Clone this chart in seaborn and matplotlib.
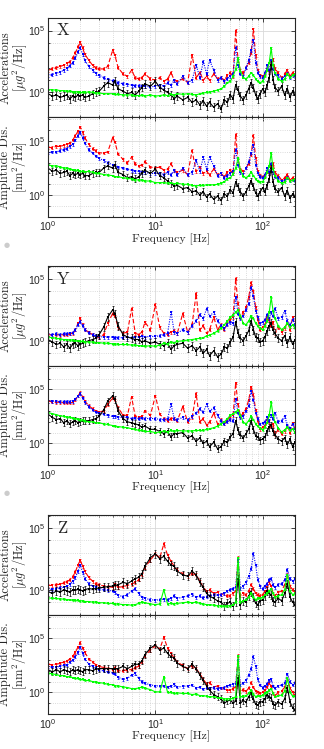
import numpy as np
import pandas as pd
import seaborn as sns
import matplotlib.pyplot as plt
from matplotlib.ticker import LogLocator, NullFormatter

# frequency grid [Hz]
freq = [1.0, 1.1, 1.2, 1.3, 1.4, 1.5, 1.6, 1.7, 1.8, 1.9,
        2.0, 2.1, 2.2, 2.4, 2.6, 2.8, 3.0, 3.3, 3.6, 4.0,
        4.2, 4.5, 5.0, 5.5, 6.0, 6.5, 7.0, 7.5, 8.0, 9.0,
        10, 11, 12, 13, 14, 15, 16, 18, 20, 22,
        24, 26, 28, 30, 32, 35, 38, 41, 44, 47,
        50, 53, 56, 59, 62, 66, 70, 74, 78, 82,
        86, 90, 95, 100, 105, 110, 115, 120, 125, 130,
        140, 150, 160, 170, 180, 190, 200]

# log10 of the spectra
# ---- X ----
x_acc_red = [1.8, 1.9, 2.0, 2.1, 2.2, 2.35, 2.5, 2.8, 3.2, 3.7,
             4.05, 3.6, 3.1, 2.6, 2.2, 2.0, 1.9, 1.9, 2.1, 3.4,
             3.0, 2.0, 1.5, 1.3, 1.8, 1.2, 1.1, 1.2, 1.5, 1.1,
             1.0, 1.2, 0.9, 1.1, 1.6, 1.0, 0.9, 1.1, 0.8, 3.0,
             1.2, 1.6, 1.0, 1.3, 1.0, 1.5, 1.1, 1.2, 1.0, 1.4,
             1.6, 1.3, 5.0, 2.6, 1.8, 1.6, 2.0, 2.4, 3.2, 5.1,
             3.0, 1.8, 1.4, 1.3, 1.5, 1.9, 1.7, 2.4, 2.7, 1.9,
             1.6, 1.2, 1.5, 1.8, 1.3, 1.6, 1.4]
x_acc_blue = [1.35, 1.45, 1.55, 1.65, 1.8, 1.95, 2.15, 2.4, 2.8, 3.3,
              3.6, 3.1, 2.6, 2.1, 1.8, 1.55, 1.4, 1.2, 1.05, 0.95,
              0.9, 0.8, 0.7, 0.65, 0.6, 0.55, 0.55, 0.5, 0.5, 0.45,
              0.5, 0.6, 0.5, 0.8, 0.6, 1.0, 0.7, 1.3, 0.8, 1.0,
              2.2, 1.2, 2.5, 1.5, 2.6, 1.8, 1.0, 1.2, 0.9, 1.1,
              1.3, 1.5, 3.6, 2.2, 1.5, 1.3, 2.0, 2.6, 3.4, 4.2,
              2.4, 1.6, 1.3, 1.2, 1.6, 2.2, 1.8, 2.6, 1.9, 1.5,
              1.4, 1.1, 1.3, 1.5, 1.2, 1.4, 1.3]
x_acc_black = [-0.1, -0.3, -0.2, -0.4, -0.3, -0.2, -0.5, -0.3, -0.4, -0.2,
               -0.3, -0.2, -0.4, -0.3, -0.1, 0.0, 0.1, 0.5, 0.8, 0.6,
               0.9, 0.3, 0.1, -0.1, 0.0, -0.2, 0.1, 0.4, 0.7, 0.5,
               0.9, 0.4, 0.2, 0.0, -0.2, -0.5, -0.3, -0.6, -0.4, -0.8,
               -0.6, -1.0, -0.7, -1.1, -0.8, -1.2, -0.9, -1.3, -0.6, -0.8,
               -0.2, -0.5, 0.6, 0.2, -0.3, -0.6, -0.2, 0.3, 0.8, 0.4,
               -0.2, -0.5, -0.1, 0.3, 0.0, 0.6, 1.2, 2.2, 1.0, 0.4,
               0.1, 0.5, -0.2, 0.3, -0.4, 0.1, -0.2]
x_acc_green = [0.25, 0.2, 0.2, 0.15, 0.15, 0.1, 0.1, 0.05, 0.05, 0.05,
               0.0, 0.0, 0.0, 0.05, 0.0, -0.05, -0.05, -0.1, -0.1, -0.1,
               -0.15, -0.15, -0.2, -0.2, -0.2, -0.25, -0.25, -0.2, -0.3, -0.2,
               -0.3, -0.25, -0.2, -0.25, -0.15, -0.2, -0.1, -0.15, -0.1, -0.15,
               -0.2, -0.1, -0.05, 0.0, 0.05, 0.1, 0.2, 0.3, 0.5, 0.8,
               0.9, 1.3, 1.9, 2.8, 1.7, 1.2, 1.1, 1.3, 1.6, 1.4,
               1.1, 0.9, 0.8, 0.9, 1.3, 1.8, 2.4, 3.6, 2.2, 1.6,
               1.1, 0.9, 1.1, 1.5, 1.2, 1.4, 1.5]
x_dis_red = [4.4, 4.4, 4.5, 4.5, 4.6, 4.7, 4.8, 5.1, 5.5, 5.9,
             6.3, 5.8, 5.3, 4.7, 4.3, 4.1, 3.9, 3.9, 4.0, 5.3,
             4.9, 3.8, 3.3, 3.0, 3.5, 2.9, 2.7, 2.8, 3.1, 2.6,
             2.5, 2.6, 2.3, 2.4, 2.9, 2.3, 2.1, 2.3, 1.9, 4.1,
             2.2, 2.6, 2.0, 2.2, 1.9, 2.4, 1.9, 2.0, 1.7, 2.1,
             2.3, 2.0, 5.6, 3.2, 2.4, 2.2, 2.5, 2.9, 3.7, 5.5,
             3.4, 2.2, 1.8, 1.7, 1.8, 2.2, 2.0, 2.7, 2.9, 2.1,
             1.8, 1.4, 1.6, 1.9, 1.4, 1.6, 1.4]
x_dis_blue = [3.9, 4.0, 4.0, 4.1, 4.2, 4.3, 4.5, 4.7, 5.1, 5.5,
              5.8, 5.3, 4.8, 4.2, 3.9, 3.6, 3.4, 3.2, 3.0, 2.8,
              2.8, 2.6, 2.5, 2.4, 2.3, 2.2, 2.2, 2.1, 2.1, 2.0,
              2.0, 2.0, 1.9, 2.1, 1.9, 2.3, 1.9, 2.5, 1.9, 2.1,
              3.2, 2.2, 3.5, 2.4, 3.5, 2.7, 1.8, 2.0, 1.6, 1.8,
              2.0, 2.2, 4.2, 2.8, 2.1, 1.9, 2.5, 3.1, 3.9, 4.6,
              2.8, 2.0, 1.7, 1.6, 1.9, 2.5, 2.1, 2.9, 2.1, 1.7,
              1.6, 1.3, 1.4, 1.6, 1.3, 1.4, 1.3]
x_dis_black = [2.5, 2.2, 2.3, 2.0, 2.1, 2.2, 1.8, 2.0, 1.9, 2.0,
               1.9, 2.0, 1.8, 1.8, 2.0, 2.1, 2.1, 2.5, 2.7, 2.5,
               2.8, 2.1, 1.9, 1.6, 1.7, 1.5, 1.7, 2.0, 2.3, 2.0,
               2.4, 1.8, 1.6, 1.3, 1.1, 0.8, 0.9, 0.6, 0.7, 0.3,
               0.4, 0.0, 0.3, -0.2, 0.1, -0.4, -0.1, -0.5, 0.1, -0.1,
               0.5, 0.2, 1.2, 0.8, 0.3, -0.1, 0.3, 0.8, 1.3, 0.8,
               0.2, -0.1, 0.3, 0.7, 0.3, 0.9, 1.5, 2.5, 1.2, 0.6,
               0.3, 0.7, -0.1, 0.4, -0.3, 0.1, -0.2]
x_dis_green = [2.8, 2.7, 2.7, 2.6, 2.5, 2.5, 2.4, 2.35, 2.3, 2.3,
               2.2, 2.2, 2.15, 2.2, 2.1, 2.0, 2.0, 1.9, 1.85, 1.8,
               1.7, 1.7, 1.6, 1.55, 1.5, 1.4, 1.4, 1.4, 1.3, 1.3,
               1.15, 1.15, 1.15, 1.1, 1.15, 1.05, 1.1, 1.0, 1.0, 0.9,
               0.85, 0.9, 0.9, 0.95, 0.95, 0.95, 1.0, 1.1, 1.25, 1.5,
               1.6, 1.95, 2.5, 3.4, 2.3, 1.75, 1.6, 1.8, 2.1, 1.8,
               1.5, 1.3, 1.2, 1.25, 1.6, 2.1, 2.7, 3.9, 2.4, 1.8,
               1.3, 1.1, 1.2, 1.6, 1.3, 1.4, 1.5]
# ---- Y ----
y_acc_red = [0.5, 0.45, 0.5, 0.45, 0.5, 0.5, 0.55, 0.6, 0.9, 1.4,
             1.8, 1.3, 0.9, 0.7, 0.5, 0.35, 0.3, 0.5, 1.4, 2.2,
             2.0, 1.1, 0.6, 0.7, 2.6, 0.6, 0.5, 0.7, 1.5, 0.9,
             2.9, 1.1, 0.6, 0.5, 0.7, 0.8, 0.6, 2.2, 0.7, 1.3,
             3.8, 0.9, 1.2, 0.6, 0.9, 1.9, 0.9, 1.3, 0.9, 1.4,
             1.7, 1.9, 5.0, 3.0, 1.9, 2.3, 2.7, 3.5, 4.7, 4.0,
             2.7, 1.7, 0.9, 1.1, 1.3, 1.9, 1.7, 1.2, 1.5, 0.6,
             1.1, 0.7, 1.0, 1.5, 0.9, 1.9, 1.3]
y_acc_blue = [0.5, 0.5, 0.55, 0.5, 0.55, 0.55, 0.6, 0.65, 0.9, 1.3,
              1.55, 1.2, 0.9, 0.65, 0.5, 0.4, 0.35, 0.3, 0.3, 0.3,
              0.25, 0.25, 0.25, 0.3, 0.25, 0.3, 0.3, 0.35, 0.3, 0.35,
              0.35, 0.4, 0.5, 0.6, 2.3, 0.7, 0.6, 0.9, 0.7, 1.2,
              1.6, 2.1, 1.8, 2.6, 2.0, 2.3, 1.6, 1.2, 1.0, 1.3,
              1.5, 1.4, 3.5, 2.2, 1.8, 2.0, 2.5, 3.0, 4.3, 3.6,
              2.4, 1.9, 1.4, 1.5, 1.7, 2.1, 1.8, 2.3, 2.0, 2.6,
              1.8, 1.9, 2.4, 1.6, 1.3, 1.7, 1.3]
y_acc_black = [0.1, -0.1, -0.3, -0.2, -0.5, -0.3, -0.6, -0.3, -0.2, -0.4,
               -0.3, -0.2, -0.1, 0.0, 0.1, 0.2, 0.5, 1.1, 1.9, 2.5,
               2.2, 1.2, 0.5, 0.3, 0.2, 0.1, 0.1, -0.1, 0.0, -0.2,
               -0.1, -0.3, -0.4, -0.2, -0.7, -0.4, -0.3, -0.2, -0.6, -0.4,
               -0.8, -0.5, -1.0, -0.7, -1.2, -0.8, -1.3, -1.1, -0.5, -0.6,
               -0.1, 0.3, 1.5, 0.6, 0.2, 0.0, 0.4, 0.8, 1.6, 0.9,
               0.3, 0.2, -0.1, 0.0, 0.3, 0.8, 1.2, 1.4, 0.9, 0.6,
               0.2, 0.0, 0.4, -0.2, 0.3, -0.3, 0.1]
y_acc_green = [0.3, 0.25, 0.2, 0.15, 0.1, 0.1, 0.05, 0.05, 0.0, 0.0,
               -0.05, -0.05, -0.1, -0.1, -0.1, -0.15, -0.15, -0.2, -0.2, -0.25,
               -0.25, -0.3, -0.3, -0.3, -0.35, -0.35, -0.4, -0.4, -0.45, -0.4,
               -0.45, -0.35, -0.2, -0.25, -0.1, -0.15, -0.05, 0.0, 0.05, 0.1,
               0.15, 0.2, 0.25, 0.4, 0.45, 0.6, 0.8, 1.0, 1.3, 1.6,
               1.9, 2.1, 2.3, 2.5, 2.0, 1.4, 1.3, 1.6, 2.0, 1.8,
               1.4, 1.2, 1.0, 0.9, 1.2, 1.6, 2.3, 3.5, 2.4, 1.8,
               1.2, 0.9, 1.1, 1.4, 1.1, 1.3, 1.0]
y_dis_red = [3.9, 3.85, 3.8, 3.8, 3.75, 3.75, 3.75, 3.8, 4.0, 4.4,
             4.7, 4.3, 3.9, 3.5, 3.2, 3.0, 2.9, 3.0, 3.6, 4.2,
             4.0, 3.3, 2.6, 2.6, 4.3, 2.5, 2.4, 2.5, 3.0, 2.6,
             4.4, 2.7, 2.3, 2.1, 2.3, 2.3, 2.1, 3.4, 2.0, 2.4,
             4.6, 2.0, 2.3, 1.7, 2.0, 2.8, 1.8, 2.2, 1.8, 2.2,
             2.4, 2.6, 5.6, 3.6, 2.5, 2.8, 3.2, 4.0, 5.2, 4.5,
             3.1, 2.1, 1.3, 1.5, 1.6, 2.2, 2.0, 1.5, 1.8, 0.8,
             1.3, 0.9, 1.1, 1.6, 1.0, 1.9, 1.3]
y_dis_blue = [3.9, 3.9, 3.9, 3.85, 3.85, 3.85, 3.85, 3.9, 4.1, 4.4,
              4.6, 4.2, 3.8, 3.4, 3.1, 2.9, 2.8, 2.7, 2.6, 2.5,
              2.5, 2.4, 2.4, 2.4, 2.3, 2.35, 2.3, 2.35, 2.3, 2.3,
              2.3, 2.2, 2.2, 2.3, 3.6, 2.3, 2.2, 2.4, 2.2, 2.5,
              2.8, 3.2, 2.9, 3.6, 3.0, 3.3, 2.6, 2.1, 1.8, 2.0,
              2.2, 2.1, 4.1, 2.8, 2.4, 2.5, 3.0, 3.5, 4.8, 4.0,
              2.8, 2.3, 1.8, 1.9, 2.0, 2.4, 2.1, 2.6, 2.3, 2.8,
              2.0, 2.1, 2.5, 1.7, 1.4, 1.8, 1.3]
y_dis_black = [2.7, 2.4, 2.2, 2.3, 1.9, 2.1, 1.8, 2.0, 2.1, 1.9,
               2.0, 2.1, 2.1, 2.1, 2.2, 2.3, 2.5, 3.1, 3.9, 4.4,
               4.1, 3.0, 2.3, 2.0, 1.9, 1.8, 1.7, 1.5, 1.6, 1.3,
               1.3, 1.1, 0.9, 1.1, 0.6, 0.9, 0.9, 1.0, 0.5, 0.7,
               0.2, 0.5, 0.0, 0.2, -0.3, 0.1, -0.5, -0.3, 0.2, 0.1,
               0.6, 0.9, 2.1, 1.2, 0.8, 0.5, 0.9, 1.3, 2.1, 1.3,
               0.7, 0.6, 0.3, 0.4, 0.6, 1.1, 1.5, 1.7, 1.1, 0.8,
               0.4, 0.2, 0.5, -0.1, 0.4, -0.3, 0.1]
y_dis_green = [2.85, 2.75, 2.65, 2.55, 2.5, 2.45, 2.4, 2.35, 2.3, 2.25,
               2.15, 2.15, 2.05, 2.0, 2.0, 1.9, 1.9, 1.8, 1.75, 1.65,
               1.6, 1.55, 1.5, 1.45, 1.35, 1.3, 1.2, 1.2, 1.1, 1.1,
               1.0, 1.05, 1.15, 1.05, 1.2, 1.1, 1.2, 1.15, 1.15, 1.15,
               1.2, 1.2, 1.2, 1.3, 1.35, 1.45, 1.6, 1.8, 2.0, 2.3,
               2.6, 2.75, 2.9, 3.1, 2.6, 1.95, 1.8, 2.1, 2.5, 2.2,
               1.8, 1.6, 1.4, 1.25, 1.5, 1.9, 2.6, 3.8, 2.6, 2.0,
               1.4, 1.05, 1.25, 1.5, 1.2, 1.35, 1.0]
# ---- Z ----
z_acc_red = [0.35, 0.35, 0.4, 0.45, 0.55, 0.65, 0.8, 1.05, 1.45, 2.0,
             2.4, 1.9, 1.5, 1.0, 0.7, 0.5, 0.4, 0.3, 0.25, 0.2,
             0.45, 0.2, 0.25, 0.35, 0.45, 0.6, 0.8, 1.2, 1.8, 2.4,
             2.9, 2.6, 3.7, 2.8, 2.3, 1.9, 1.6, 1.3, 1.1, 1.3,
             1.2, 0.7, 0.2, -0.1, 0.0, -0.3, -0.2, -0.4, -0.3, -0.5,
             -0.5, -0.3, -0.1, 2.6, -0.5, -0.3, -0.4, -0.1, 0.4, 0.1,
             -0.3, -0.4, -0.5, -0.4, -0.1, 0.2, 0.6, 0.3, -0.3, -0.5,
             -0.2, -0.1, 0.4, 1.2, 0.3, 0.0, -0.2]
z_acc_blue = [0.0, 0.05, 0.1, 0.15, 0.2, 0.3, 0.45, 0.7, 1.0, 1.5,
              2.0, 1.4, 0.9, 0.5, 0.3, 0.2, 0.1, 0.0, -0.05, -0.1,
              -0.2, -0.45, -0.55, -0.4, -0.1, 0.1, -0.3, -0.6, -0.7, -0.8,
              -0.85, -0.8, -0.75, -0.8, -0.7, -0.5, -0.7, -0.6, -0.5, -0.35,
              -0.6, -0.5, -0.65, -0.55, -0.5, -0.4, -0.45, -0.4, -0.3, -0.1,
              0.0, 0.1, 0.2, 2.4, 0.1, 0.3, 0.6, 1.1, 1.7, 2.9,
              2.0, 0.8, 0.3, 0.1, 0.3, 0.5, 0.8, 0.9, 0.4, 0.2,
              0.4, 0.5, 0.8, 1.6, 0.9, 0.7, 0.9]
z_acc_black = [-0.15, -0.3, -0.1, -0.2, 0.0, -0.1, -0.2, 0.0, -0.05, 0.05,
               0.0, -0.1, 0.0, 0.1, 0.05, 0.1, 0.15, 0.2, 0.25, 0.3,
               0.35, 0.4, 0.6, 0.5, 0.7, 0.9, 1.0, 1.3, 1.9, 2.6,
               2.9, 2.5, 2.7, 2.3, 2.0, 1.9, 1.5, 1.2, 1.1, 1.5,
               1.2, 0.6, 0.2, -0.3, -0.5, -0.7, -0.9, -1.0, -1.3, -1.1,
               -1.0, -1.3, -1.0, 0.9, -1.2, -0.9, -1.0, -0.5, -0.2, -0.6,
               -1.1, -1.2, -0.9, -0.8, -0.5, -0.1, -0.3, -0.4, -0.9, -1.0,
               -0.7, -0.9, -0.3, 0.5, -0.6, -1.0, -1.2]
z_acc_green = [-0.65, -0.7, -0.7, -0.75, -0.75, -0.8, -0.8, -0.85, -0.85, -0.85,
               -0.9, -0.9, -0.95, -0.95, -1.0, -1.0, -1.05, -1.05, -1.1, -1.1,
               -1.15, -1.15, -1.2, -1.2, -1.25, -1.2, -1.1, -1.0, -1.05, -1.15,
               -1.2, -1.15, 0.0, -1.15, -1.1, -1.15, -1.1, -1.05, -1.0, -1.05,
               -1.0, -1.1, -1.15, -1.2, -1.2, -1.25, -1.3, -1.3, -1.35, -1.3,
               -1.3, -1.2, -1.0, 2.6, -1.0, -0.9, -0.8, -0.6, -0.3, -0.6,
               -0.8, -0.7, -0.7, -0.6, -0.4, -0.3, -0.1, 0.1, -0.3, -0.6,
               -0.5, -0.4, 0.0, 1.2, -0.1, -0.4, -0.3]
z_dis_red = [2.6, 2.55, 2.6, 2.7, 2.8, 2.9, 3.1, 3.35, 3.7, 4.2,
             4.6, 4.1, 3.7, 3.1, 2.8, 2.55, 2.4, 2.3, 2.2, 2.1,
             2.3, 2.0, 2.0, 2.1, 2.1, 2.3, 2.4, 2.8, 3.4, 3.9,
             4.35, 4.0, 5.1, 4.1, 3.6, 3.2, 2.8, 2.5, 2.2, 2.4,
             2.2, 1.7, 1.2, 0.8, 0.9, 0.5, 0.6, 0.4, 0.4, 0.2,
             0.2, 0.35, 0.5, 3.4, 0.1, 0.25, 0.1, 0.4, 0.9, 0.5,
             0.1, 0.0, -0.1, 0.0, 0.2, 0.5, 0.9, 0.6, -0.1, -0.3,
             0.0, 0.1, 0.5, 1.3, 0.4, 0.0, -0.2]
z_dis_blue = [2.35, 2.35, 2.35, 2.4, 2.5, 2.55, 2.8, 3.0, 3.3, 3.7,
              4.2, 3.6, 3.1, 2.6, 2.4, 2.3, 2.1, 2.0, 1.9, 1.8,
              1.7, 1.4, 1.2, 1.3, 1.6, 1.75, 1.3, 1.0, 0.85, 0.7,
              0.6, 0.6, 0.6, 0.5, 0.6, 0.75, 0.5, 0.55, 0.6, 0.7,
              0.4, 0.5, 0.3, 0.4, 0.4, 0.45, 0.35, 0.4, 0.45, 0.6,
              0.7, 0.75, 0.8, 3.0, 0.7, 0.85, 1.1, 1.6, 2.2, 3.3,
              2.4, 1.2, 0.7, 0.45, 0.6, 0.8, 1.1, 1.2, 0.6, 0.4,
              0.6, 0.7, 0.9, 1.7, 1.0, 0.7, 0.9]
z_dis_black = [2.1, 1.9, 2.1, 1.9, 2.1, 2.0, 1.9, 2.1, 2.0, 2.1,
               2.0, 1.9, 2.1, 2.1, 2.0, 2.15, 2.2, 2.2, 2.2, 2.2,
               2.2, 2.2, 2.4, 2.2, 2.4, 2.6, 2.6, 2.9, 3.5, 4.1,
               4.4, 3.9, 4.1, 3.6, 3.3, 3.2, 2.7, 2.4, 2.2, 2.6,
               2.2, 1.6, 1.1, 0.6, 0.2, -0.2, -0.4, -0.6, -1.0, -0.8,
               -0.7, -1.0, -0.8, 1.3, -1.0, -0.75, -0.9, -0.4, -0.1, -0.6,
               -1.1, -1.2, -0.9, -0.85, -0.6, -0.2, -0.4, -0.5, -1.1, -1.2,
               -0.9, -1.1, -0.6, 0.4, -0.9, -1.4, -1.6]
z_dis_green = [1.8, 1.7, 1.65, 1.55, 1.55, 1.45, 1.45, 1.35, 1.3, 1.3,
               1.2, 1.2, 1.1, 1.1, 1.0, 0.95, 0.9, 0.85, 0.75, 0.7,
               0.6, 0.6, 0.5, 0.45, 0.35, 0.35, 0.4, 0.5, 0.4, 0.25,
               0.05, 0.05, 1.4, 0.0, 0.0, -0.1, -0.05, -0.1, -0.1, -0.2,
               -0.15, -0.3, -0.3, -0.35, -0.4, -0.4, -0.5, -0.5, -0.6, -0.6,
               -0.6, -0.55, -0.4, 3.4, -0.4, -0.35, -0.3, -0.1, 0.2, -0.15,
               -0.4, -0.3, -0.35, -0.25, -0.1, 0.0, 0.2, 0.35, -0.1, -0.4,
               -0.3, -0.25, 0.1, 1.3, 0.0, -0.35, -0.3]

series_names = ["red", "blue", "black", "green"]
panels = {
    ("X", "acc"): [x_acc_red, x_acc_blue, x_acc_black, x_acc_green],
    ("X", "dis"): [x_dis_red, x_dis_blue, x_dis_black, x_dis_green],
    ("Y", "acc"): [y_acc_red, y_acc_blue, y_acc_black, y_acc_green],
    ("Y", "dis"): [y_dis_red, y_dis_blue, y_dis_black, y_dis_green],
    ("Z", "acc"): [z_acc_red, z_acc_blue, z_acc_black, z_acc_green],
    ("Z", "dis"): [z_dis_red, z_dis_blue, z_dis_black, z_dis_green],
}

rows = []
for (direc, qty), lists in panels.items():
    for name, vals in zip(series_names, lists):
        assert len(vals) == len(freq), (direc, qty, name, len(vals))
        for f, v in zip(freq, vals):
            rows.append((direc, qty, name, f, 10.0 ** v))
df = pd.DataFrame(rows, columns=["direction", "quantity", "series", "freq", "psd"])

colors = {"red": "#ff0000", "blue": "#0000ff", "black": "#000000", "green": "#00ff00"}
lstyles = {"red": (0, (4, 2)), "blue": (0, (1, 1.2)), "black": "-", "green": "-"}
err_dec = {"red": 0.12, "blue": 0.12, "black": 0.32, "green": 0.06}

sns.set_style("ticks")
plt.rcParams["font.family"] = "cmr10"
plt.rcParams["mathtext.fontset"] = "cm"
plt.rcParams["axes.formatter.use_mathtext"] = True
plt.rcParams["axes.unicode_minus"] = False

fig = plt.figure(figsize=(3.24, 7.49), dpi=100)
W, H = 324, 749
left, width = 48 / W, 247 / W
# top pixel rows of each group (top panel), bottom panel follows
group_tops = {"X": 17.7, "Y": 266, "Z": 515}
ph = 99.5

ylabels = {"acc": "Accelerations\n[$\\mu g^2$/Hz]", "dis": "Amplitude Dis.\n[nm$^2$/Hz]"}
ylims = {"acc": (1e-2, 1.1e6), "dis": (1e-2, 1.6e7)}

for direc, y0 in group_tops.items():
    for k, qty in enumerate(["acc", "dis"]):
        ytop = y0 + k * ph
        ax = fig.add_axes([left, 1 - (ytop + ph) / H, width, ph / H])
        ax.set_xscale("log")
        ax.set_yscale("log")
        ax.set_axisbelow(True)
        for name in series_names:
            sub = df[(df.direction == direc) & (df.quantity == qty) & (df.series == name)]
            y = sub["psd"].to_numpy()
            e = 10 ** err_dec[name]
            ax.errorbar(sub["freq"], y, yerr=[y - y / e, y * e - y], fmt="none",
                        ecolor=colors[name], elinewidth=0.5, capsize=1.0, capthick=0.5)
            sns.lineplot(data=sub, x="freq", y="psd", ax=ax, color=colors[name],
                         linestyle=lstyles[name], linewidth=0.8, marker="s",
                         markersize=2.0, markeredgewidth=0, estimator=None, legend=False)
        ax.set_xlim(1, 200)
        ax.set_ylim(*ylims[qty])
        ax.set_yticks([1, 1e5], labels=[r"$\mathdefault{10^{0}}$", r"$\mathdefault{10^{5}}$"])
        ax.yaxis.set_minor_locator(LogLocator(base=10, subs=(1.0,), numticks=30))
        ax.yaxis.set_minor_formatter(NullFormatter())
        ax.set_xticks([1, 10, 100], labels=[r"$\mathdefault{10^{0}}$", r"$\mathdefault{10^{1}}$",
                                             r"$\mathdefault{10^{2}}$"])
        ax.xaxis.set_minor_locator(LogLocator(base=10, subs=np.arange(2, 10), numticks=30))
        ax.xaxis.set_minor_formatter(NullFormatter())
        ax.tick_params(which="both", direction="in", top=True, right=True, labelsize=7.5,
                       labelfontfamily="Liberation Sans", color="#262626", width=0.6)
        ax.tick_params(which="major", length=3, pad=2)
        ax.tick_params(which="minor", length=1.5)
        ax.grid(True, which="major", color="#d9d9d9", linestyle="-", linewidth=0.6)
        ax.grid(True, which="minor", color="#cfcfcf", linestyle=":", linewidth=0.6)
        for sp in ax.spines.values():
            sp.set_color("#262626")
            sp.set_linewidth(0.8)
        ax.set_ylabel(ylabels[qty], fontsize=9, linespacing=0.95)
        ax.yaxis.set_label_coords(-0.076, 0.5)
        if qty == "acc":
            ax.tick_params(labelbottom=False)
            ax.set_xlabel("")
            ax.text(0.035, 0.87, direc, transform=ax.transAxes, fontsize=12, va="center")
        else:
            ax.set_xlabel("Frequency [Hz]", fontsize=8.5)
            ax.xaxis.set_label_coords(0.5, -0.17)

# grey bullets at the left margin
for yp in [245, 493]:
    fig.text(7 / W, 1 - yp / H, "\u25cf", color="#cccccc", fontsize=5,
             ha="center", va="center", family="DejaVu Sans")

fig.savefig("out.png", dpi=100)
